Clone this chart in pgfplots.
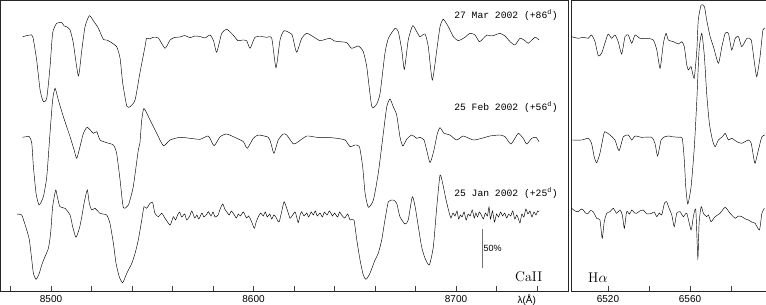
\documentclass[border=0pt]{standalone}
\usepackage{fontspec}
\setsansfont{Liberation Sans}
\setmonofont{Liberation Mono}
\usepackage{pgfplots}
\pgfplotsset{compat=1.18}

% spectra: x = wavelength (A), y = height in the plot (flux + offset), 38 units = 50%
\pgfplotsset{
  spec/.style={black, line width=0.45pt, no markers, smooth, tension=0.35},
  panel/.style={
    scale only axis, height=291pt, ymin=0, ymax=291,
    anchor=south west, clip=false,
    axis line style={black!85, line width=0.8pt},
    ytick=\empty, xtick pos=left, tick align=inside,
    major tick length=5pt, minor tick length=5pt,
    tick style={black!75, line width=0.5pt},
    xticklabel style={font=\sffamily\fontsize{10}{10}\selectfont, inner sep=0pt, yshift=-4pt},
  },
}
\tikzset{date/.style={anchor=east, font=\ttfamily\fontsize{9.7}{10}\selectfont}}

\begin{document}
\begin{tikzpicture}
\begin{axis}[panel, at={(0pt,0pt)}, width=568pt,
  xmin=8474.8, xmax=8755.3,
  xtick={8500,8600,8700}, xticklabels={8500,8600,8700},
  minor xtick={8480,8520,8540,8560,8580,8620,8640,8660,8680,8720,8740}]

% 27 Mar 2002
\addplot[spec] coordinates {
(8486.0,254.3) (8489.6,256) (8491.0,254.3) (8492.9,231) (8494.6,201) (8496.2,189.3) (8497.9,193) (8499.5,224)
(8500.8,258) (8502.8,267.7) (8505.3,268.3) (8506.5,265) (8507.7,264.3) (8509.4,261) (8511.0,248) (8513.5,215)
(8515.2,241) (8516.8,264.3) (8518.9,275.3) (8520.9,270.3) (8523.4,262.7) (8525.8,251.7) (8527.5,251) (8529.1,249.3)
(8532.4,244.3) (8534.1,232.7) (8535.4,208) (8537.4,185) (8539.0,184.3) (8541.5,191) (8543.9,218) (8546.4,244.3)
(8547.2,252.7) (8548.8,252) (8550.4,253.7) (8553.0,253) (8556.3,242.7) (8558.8,251) (8561,253.5) (8563.7,254)
(8566,255.5) (8568.6,253.3) (8571,255) (8573.6,254.5) (8576,253) (8578.5,256) (8580.3,250) (8581.8,238.7)
(8584.3,257.7) (8586.8,261.7) (8589.9,256) (8592.3,250.3) (8594.5,251) (8596.6,250.3) (8598.3,242.7) (8600.7,253.7)
(8603.5,254.5) (8606.5,253.7) (8609.0,252.7) (8611.1,223.3) (8613.1,251) (8615.1,260.3) (8618.9,256.7) (8619.7,251)
(8621.3,238.7) (8623.8,252.7) (8626.3,257.7) (8629.5,254.3) (8632.8,250.3) (8635.2,251.5) (8637.8,252.7) (8640,250)
(8642.7,249.3) (8646.0,248.3) (8648.5,242.7) (8651.8,245) (8654.2,239.3) (8655.9,224.3) (8658.4,184.6) (8660.8,187)
(8662.5,197.7) (8664.9,237.7) (8666.6,252.7) (8669.9,262.7) (8671.5,259.3) (8673.2,241) (8674.5,221.7) (8676.4,251)
(8678.6,265.3) (8680.6,259.3) (8682.2,254.3) (8684.7,257) (8686.3,244.3) (8688.3,211) (8690.5,241) (8692.1,264.3)
(8693.7,271.7) (8696.2,264.3) (8698.7,254.3) (8701.1,250.3) (8704.4,253.7) (8706.9,257.7) (8709.4,256) (8711.5,249.3)
(8713.5,252.7) (8715.2,256) (8717.5,255) (8719.3,256) (8721.7,257.7) (8724.2,255) (8726.7,249.3) (8729.1,246)
(8731.6,252.7) (8734.1,250.3) (8735.7,247.7) (8739.0,253.7) (8741.0,251)
};

% 25 Feb 2002
\addplot[spec] coordinates {
(8486.0,153.7) (8489.3,154.3) (8490.5,147.7) (8491.3,124.3) (8492.6,97.7) (8494.1,86) (8496.2,94.3) (8497.9,114.3)
(8499.5,158) (8500.8,191) (8502.0,202.7) (8503.6,191) (8506.1,174.3) (8509.4,154.3) (8511.4,141) (8512.7,132.7)
(8514.3,144.3) (8516.0,157.7) (8517.9,163.7) (8520.9,157.7) (8522.6,159.3) (8524.2,151) (8527.5,148.3) (8530.8,146)
(8532.4,137.7) (8534.1,111) (8535.7,83.7) (8538.2,86) (8540.6,104.3) (8543.1,141) (8543.9,148) (8544.8,171)
(8545.9,182.5) (8548.9,171) (8552.2,157.7) (8555.5,145.3) (8558.8,151) (8563.7,153.7) (8568.6,152.7) (8573.6,151.7)
(8577.7,155) (8580.5,145.3) (8583.5,154.3) (8586.8,157) (8591.7,152.7) (8595.0,149.3) (8596.9,142.7) (8599.9,152.7)
(8602.4,156) (8607.3,153.7) (8608.6,147.7) (8610.1,137.7) (8612.2,151) (8614.7,157) (8616.4,156) (8619.7,147)
(8622.1,149.3) (8626.3,155) (8631.2,153.7) (8636.1,153.7) (8641.1,152.7) (8645.2,151) (8647.7,144.3) (8650.1,146)
(8652.3,144.3) (8653.9,124.3) (8655.1,97.7) (8656.7,83.7) (8659.2,91) (8661.6,117.7) (8664.1,157.7) (8665.8,184.3)
(8667.4,192) (8669.0,184.3) (8670.7,176) (8672.3,154.3) (8673.7,145) (8675.6,151.7) (8678.1,156) (8680.6,152.7)
(8682.2,153.7) (8684.2,151) (8685.5,141) (8687.2,128.3) (8689.1,141) (8690.8,157.7) (8692.1,163.3) (8694.1,157.7)
(8697.0,156) (8700.3,151) (8703.6,155) (8708.5,151) (8712.7,152.7) (8716.8,155) (8721.7,156) (8724.2,154.3)
(8727.0,147) (8729.1,152.7) (8730.8,157.7) (8733.2,152.7) (8734.9,147) (8737.4,152.7) (8739.5,153.7) (8741.0,149.3)
};

% 25 Jan 2002
\addplot[spec] coordinates {
(8483.1,77) (8485.5,76) (8486.7,69.3) (8488.0,61) (8489.3,51) (8490.5,31) (8491.3,17.7) (8492.6,11.7)
(8494.2,17.7) (8495.4,26) (8497.0,34.3) (8498.7,42.7) (8499.8,57.7) (8500.8,84.3) (8502.3,101) (8503.1,94.3)
(8504.4,84.3) (8506.9,82.7) (8509.4,76) (8510.7,64.3) (8512.3,53.7) (8514.0,62.7) (8515.2,74.3) (8516.3,87.7)
(8517.9,101) (8518.9,87.7) (8520.1,81) (8521.7,82.7) (8524.2,77.7) (8527.5,76) (8529.1,67.7) (8530.8,47.7)
(8532.1,27.7) (8533.7,14.3) (8535.4,8.3) (8537.4,17.7) (8539.9,27.7) (8541.5,37.7) (8543.1,51) (8544.8,71)
(8545.9,84.3) (8547.2,82.7) (8548.9,87.7) (8550.2,88.3) (8551.3,77.7) (8553.0,74.3) (8554.7,77.7) (8556.3,72.7)
(8558.8,66) (8560.4,74.3) (8561.5,71) (8562.5,76) (8563.5,79) (8564.5,74) (8566,77) (8567,71)
(8568.5,75) (8569.5,80) (8571,73) (8572,76) (8573,72) (8574.5,78) (8575.5,74) (8577,77)
(8577.7,79.3) (8579,75) (8580,79) (8581,74) (8582.5,76) (8583.5,82) (8584.8,87) (8585.8,82)
(8586.8,79) (8588,76) (8589,80) (8590,77.7) (8591.5,73) (8592.5,77) (8593.5,75) (8595,79)
(8596.5,73) (8597.5,75) (8598.3,72.7) (8599.3,68) (8600.4,62.7) (8601.3,69) (8602.4,74.3) (8603.5,78)
(8604.8,75) (8605.8,79) (8606.8,74) (8608,77) (8609,72) (8610,76) (8611,74) (8612,70)
(8612.7,69.3) (8613.9,79.3) (8615.1,89.3) (8616.4,82.7) (8617.3,77) (8618.0,72.7) (8619,75) (8620.5,79)
(8621.3,74) (8622.1,68.3) (8623,76) (8623.8,79.3) (8625,75) (8626.3,78) (8627.2,74) (8628.5,79)
(8629.5,76) (8630.5,80) (8631.5,75) (8632.8,78) (8634,74) (8635,79) (8636.3,76) (8637.5,80)
(8639,75) (8640,78) (8641.5,74) (8642.5,79) (8643.5,76) (8645,73) (8646.5,77) (8647.7,71)
(8649.6,71) (8651.0,51) (8652.6,31) (8654.2,16) (8655.6,11.7) (8657.5,17.7) (8660.0,31) (8661.6,37.7)
(8663.3,51) (8664.9,71) (8666.6,89.3) (8669.0,91) (8670.7,87.7) (8672.3,74.3) (8674.8,67) (8676.4,71)
(8678.4,94.3) (8679.8,84.3) (8681.4,64.3) (8683.0,44.3) (8684.7,32.7) (8686.8,26) (8688.8,44.3) (8690.5,84.3)
(8692.1,116) (8693.4,107.7) (8695.1,91) (8696.7,77.7) (8697.5,73) (8698.5,78) (8699.5,75) (8700.5,80)
(8701.3,72) (8702.2,76) (8703,74) (8704,79) (8705,71) (8706,77) (8707,75) (8708,81)
(8709,73) (8709.8,78) (8710.6,74) (8711.5,79) (8712.5,76) (8713.5,72) (8714.5,78) (8715.5,75)
(8716.3,84) (8717,72) (8718,80) (8719,69) (8720,77) (8721,74) (8722,79) (8723,75)
(8724,78) (8725,73) (8726,77) (8727,75) (8728,80) (8729,72) (8730,76) (8731,71)
(8731.6,68) (8732.5,77) (8733.5,74) (8734.5,82) (8735.5,77) (8736.5,80) (8737.5,74) (8738.5,79)
(8739.5,76) (8740.3,80) (8741,79.3)
};

\node[date] at (axis cs:8752,276) {27 Mar 2002 (+86\textsuperscript{d})};
\node[date] at (axis cs:8752,184) {25 Feb 2002 (+56\textsuperscript{d})};
\node[date] at (axis cs:8752,98) {25 Jan 2002 (+25\textsuperscript{d})};

% 50% flux scale bar
\draw[black!55, line width=0.9pt] (axis cs:8713,61.7) -- (axis cs:8713,22.7);
\node[anchor=west, inner sep=0.5pt, font=\sffamily\fontsize{9}{9}\selectfont] at (axis cs:8713.3,43) {50\%};

\node[font=\fontsize{14}{14}\selectfont] at (axis cs:8735.9,14.3) {CaII};
\node[anchor=north, inner sep=0pt, yshift=-4pt, font=\sffamily\fontsize{10}{10}\selectfont]
  at (axis cs:8734.9,0) {λ(Å)};
\end{axis}

\begin{axis}[panel, at={(571pt,0pt)}, width=195pt,
  xmin=6502, xmax=6597,
  xtick={6520,6560}, xticklabels={6520,6560},
  minor xtick={6540,6580}]

% 27 Mar 2002
\addplot[spec] coordinates {
(6502.3,254.3) (6505.5,252.7) (6508.0,253.7) (6510.4,252.7) (6512.0,256) (6513.7,249.3) (6515.3,235) (6516.9,237.7)
(6518.5,247.7) (6520.1,257) (6521.8,252.7) (6523.4,256) (6525.0,249.3) (6526.7,237) (6528.3,254.3) (6529.9,256)
(6531.6,247.7) (6533.2,256) (6535.6,252.7) (6538.9,252.7) (6542.1,251) (6543.8,241) (6545.4,222.7) (6547.0,247.7)
(6548.3,257.7) (6549.4,251) (6551.9,249.3) (6554.3,247) (6556.0,249.3) (6557.2,244.3) (6558.4,226) (6559.2,221)
(6560.5,224.3) (6562.0,212.7) (6563.3,241) (6564.0,271) (6565.4,286) (6567.0,284.3) (6568.1,271) (6569.8,254.3)
(6571.4,244.3) (6573.8,227.7) (6575.5,244.3) (6577.1,257.7) (6578.7,257.7) (6580.3,241) (6582.0,252.7) (6583.6,254.3)
(6585.2,244.3) (6587.7,252.7) (6589.8,251) (6591.4,227.7) (6592.5,214.3) (6594.1,234.3) (6595.5,261) (6596.6,262.7)
};

% 25 Feb 2002
\addplot[spec] coordinates {
(6502.3,151) (6507.2,151) (6510.4,152.7) (6512.0,147.7) (6513.3,134.3) (6514.5,128.3) (6516.1,137.7) (6517.7,154.3)
(6518.5,159.3) (6521.0,156) (6523.4,151) (6525.4,140.3) (6527.5,154.3) (6529.9,156) (6531.6,151) (6533.2,155)
(6536.4,153.7) (6541.3,153.7) (6542.9,147.7) (6544.2,135) (6545.9,151) (6547.8,154.3) (6549.8,155) (6551.1,154.3)
(6554.3,153.7) (6556.2,152.7) (6557.2,131) (6557.9,104.3) (6558.9,87) (6560.5,104.3) (6562.1,144.3) (6563.3,191)
(6564.4,241) (6565.7,257.7) (6567.0,234.3) (6568.1,197.7) (6569.4,167.7) (6570.9,151) (6572.2,144.3) (6573.8,151)
(6575.8,154.3) (6577.1,157.7) (6578.7,151) (6580.3,152.7) (6582.8,149.3) (6585.2,147.7) (6588.4,151) (6589.8,147.7)
(6590.9,134.3) (6591.7,127.7) (6593.3,141) (6595.0,154.3) (6596.6,156)
};

% 25 Jan 2002
\addplot[spec] coordinates {
(6502.3,82.7) (6504,80) (6505.5,79.3) (6507,82) (6508.0,81) (6509,78) (6510.4,77.7) (6511.5,80.5)
(6512.8,79.3) (6514.5,72.7) (6516.1,71) (6517.2,52.7) (6518.2,69.3) (6519.4,77.7) (6521.0,79.3) (6522.6,82.7)
(6524.2,77.7) (6525.9,81) (6527,76) (6528.0,62.7) (6529.1,79.3) (6530.5,77) (6531.6,81) (6533,78)
(6534.0,77.7) (6535.5,80) (6537.2,81) (6539,77) (6541.3,77.7) (6542.5,79) (6543.8,74.3) (6545,78)
(6546.2,76) (6547.5,87.7) (6548.6,89.3) (6549.8,82.7) (6551.1,76) (6552.3,64.3) (6553.5,77.7) (6555.1,79.3)
(6556.7,74.3) (6558.4,77.7) (6560.5,61) (6561.6,74.3) (6562.8,81) (6563.8,32.7) (6564.4,67.7) (6565.4,84.3)
(6566.5,77.7) (6568.1,74.3) (6569,76) (6570.2,69.3) (6572.2,74.3) (6574.6,77.7) (6577.1,83.7) (6579.5,77.7)
(6582.0,72.7) (6583.5,75) (6585.2,74.3) (6587,72) (6588.4,71) (6590,69) (6591.7,67.7) (6593.8,61)
(6595.0,77.7) (6596.2,82.7)
};

\node[font=\fontsize{14}{14}\selectfont] at (axis cs:6515.1,13.5) {H$\alpha$};
\end{axis}

\pgfresetboundingbox
\useasboundingbox (0pt,-14pt) rectangle (766pt,291pt);
\end{tikzpicture}
\end{document}
